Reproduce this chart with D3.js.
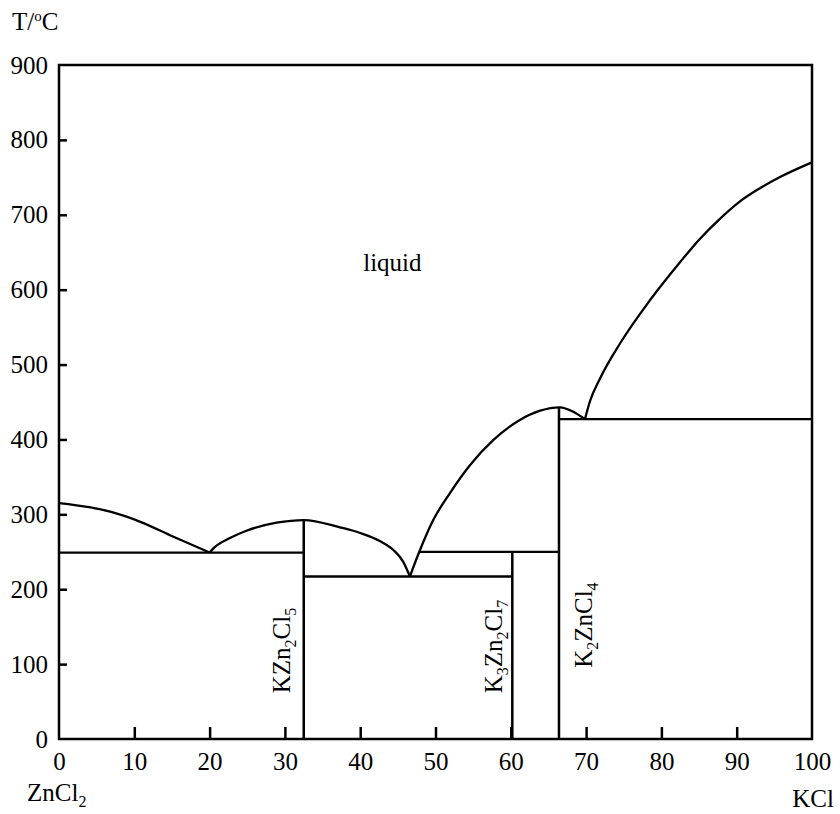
<!DOCTYPE html>
<html>
<head>
<meta charset="utf-8">
<script src="https://cdn.jsdelivr.net/npm/d3@7"></script>
<style>
  body { margin: 0; background: #fff; }
  svg text { font-family: "Liberation Serif", Tinos, "Times New Roman", "Nimbus Roman", "Nimbus Roman No9 L", FreeSerif, "Noto Serif", "DejaVu Serif", serif !important; fill: #000; }
</style>
</head>
<body>
<svg id="chart"></svg>
<script>
// tick values
const xTicks = [0, 10, 20, 30, 40, 50, 60, 70, 80, 90, 100];
const yTicks = [0, 100, 200, 300, 400, 500, 600, 700, 800, 900];

// liquidus branches [mol% KCl, T/°C]
const liquidusZnCl2 = [[0, 315], [4, 309.5], [6.8, 303.5], [10.8, 290], [15.2, 270], [20, 249]];
const liquidusKZn2Cl5 = [[20, 249], [20.5, 254.6], [22.7, 268.4], [24.9, 278.1], [28.9, 288.8], [32.5, 292.4],
                         [37.3, 282.7], [40.0, 275.1], [42.6, 264.4], [44.4, 252.4], [45.7, 236.8], [46.6, 217]];
const liquidusK2ZnCl4 = [[46.6, 217], [47.85, 250], [49.7, 292.4], [51.9, 328.1], [54.6, 365.9], [57.7, 399.3],
                         [61.2, 426], [63.9, 438.4], [66.5, 442.9], [68.3, 437], [69.85, 427]];
const liquidusKCl = [[69.85, 427], [70.5, 450.7], [71.85, 481.4], [74.5, 528.1], [78.5, 586.2], [82.5, 637],
                     [85.1, 667.7], [87.8, 694.9], [90.4, 717.6], [93.1, 735.5], [95.75, 750.4], [100, 770]];

// invariant lines [x1, x2, T]
const isotherms = [[0, 32.5, 249], [32.5, 60.2, 217], [47.85, 66.4, 250], [66.4, 100, 427]];

// compounds: formula parts [text, subscript?], composition, top of line, label foot (T)
const compounds = [
    { parts: [["KZn", 0], ["2", 1], ["Cl", 0], ["5", 1]], x: 32.5, top: 292.4, foot: 61 },
    { parts: [["K", 0], ["3", 1], ["Zn", 0], ["2", 1], ["Cl", 0], ["7", 1]], x: 60.2, top: 250, foot: 61 },
    { parts: [["K", 0], ["2", 1], ["ZnCl", 0], ["4", 1]], x: 66.4, top: 442, foot: 95 }
];

const config = {
    width: 840, height: 814,
    margin: { top: 65, right: 28, bottom: 75, left: 59 },
    font: '"Liberation Serif", Tinos, "Times New Roman", "Nimbus Roman", FreeSerif, "Noto Serif", "DejaVu Serif", serif'
};

const innerW = config.width - config.margin.left - config.margin.right;
const innerH = config.height - config.margin.top - config.margin.bottom;

const svg = d3.select('#chart')
    .attr('width', config.width)
    .attr('height', config.height)
    .attr('font-family', config.font);

const chart = svg.append('g')
    .attr('transform', `translate(${config.margin.left},${config.margin.top})`);

const xScale = d3.scaleLinear().domain([0, 100]).range([0, innerW]);
const yScale = d3.scaleLinear().domain([0, 900]).range([innerH, 0]);

// tick marks pointing inward
chart.append('g')
    .attr('transform', `translate(0,${innerH})`)
    .call(d3.axisBottom(xScale).tickValues(xTicks.slice(1, -1)).tickSize(-12).tickFormat(''))
    .call(g => g.select('.domain').remove())
    .call(g => g.selectAll('line').attr('stroke', '#000').attr('stroke-width', 2.5));

chart.append('g')
    .call(d3.axisLeft(yScale).tickValues(yTicks.slice(1, -1)).tickSize(-8).tickFormat(''))
    .call(g => g.select('.domain').remove())
    .call(g => g.selectAll('line').attr('stroke', '#000').attr('stroke-width', 2.5));

// tick labels
chart.append('g')
    .attr('transform', `translate(0,${innerH})`)
    .call(d3.axisBottom(xScale).tickValues(xTicks).tickSize(0).tickPadding(13))
    .call(g => g.attr('font-family', config.font).attr('font-size', 25))
    .call(g => g.select('.domain').remove());

chart.append('g')
    .call(d3.axisLeft(yScale).tickValues(yTicks).tickSize(0).tickPadding(11))
    .call(g => g.attr('font-family', config.font).attr('font-size', 25))
    .call(g => g.select('.domain').remove());

// frame
chart.append('rect')
    .attr('width', innerW).attr('height', innerH)
    .attr('fill', 'none').attr('stroke', '#000').attr('stroke-width', 2.5);

const line = d3.line()
    .x(d => xScale(d[0]))
    .y(d => yScale(d[1]))
    .curve(d3.curveMonotoneX);

[liquidusZnCl2, liquidusKZn2Cl5, liquidusK2ZnCl4, liquidusKCl].forEach(pts => {
    chart.append('path')
        .attr('d', line(pts))
        .attr('fill', 'none').attr('stroke', '#000').attr('stroke-width', 2.3);
});

chart.selectAll('.iso')
    .data(isotherms)
    .join('line')
        .attr('class', 'iso')
        .attr('x1', d => xScale(d[0])).attr('x2', d => xScale(d[1]))
        .attr('y1', d => yScale(d[2])).attr('y2', d => yScale(d[2]))
        .attr('stroke', '#000').attr('stroke-width', 2.3);

chart.selectAll('.comp')
    .data(compounds)
    .join('line')
        .attr('class', 'comp')
        .attr('x1', d => xScale(d.x)).attr('x2', d => xScale(d.x))
        .attr('y1', yScale(0)).attr('y2', d => yScale(d.top))
        .attr('stroke', '#000').attr('stroke-width', 2.5);

// writes text with subscripts into a <text> element
function formula(t, parts, size, subSize, shift){
    let cur = 0;
    parts.forEach(p => {
        let target = p[1] ? shift : 0;
        t.append('tspan')
            .attr('font-size', p[1] ? subSize : size)
            .attr('dy', target - cur)
            .text(p[0]);
        cur = target;
    });
}

// rotated compound labels
const labelOffset = [-14, -10, 33];
compounds.forEach((c, i) => {
    const t = chart.append('text')
        .attr('font-size', 25)
        .attr('transform', `translate(${xScale(c.x) + labelOffset[i]},${yScale(c.foot)}) rotate(-90)`);
    formula(t, c.parts, 25, 16, 6);
});

// region label
chart.append('text')
    .attr('x', xScale(40.4)).attr('y', yScale(625))
    .attr('font-size', 25)
    .text('liquid');

// axis titles
const tTitle = svg.append('text').attr('x', 12).attr('y', 30).attr('font-size', 25);
formula(tTitle, [["T/", 0], ["o", 1], ["C", 0]], 25, 15, -9);

const zTitle = svg.append('text').attr('x', 27).attr('y', 801).attr('font-size', 25);
formula(zTitle, [["ZnCl", 0], ["2", 1]], 25, 16, 6);

svg.append('text')
    .attr('x', 834).attr('y', 807)
    .attr('text-anchor', 'end')
    .attr('font-size', 25)
    .text('KCl');
</script>
</body>
</html>
